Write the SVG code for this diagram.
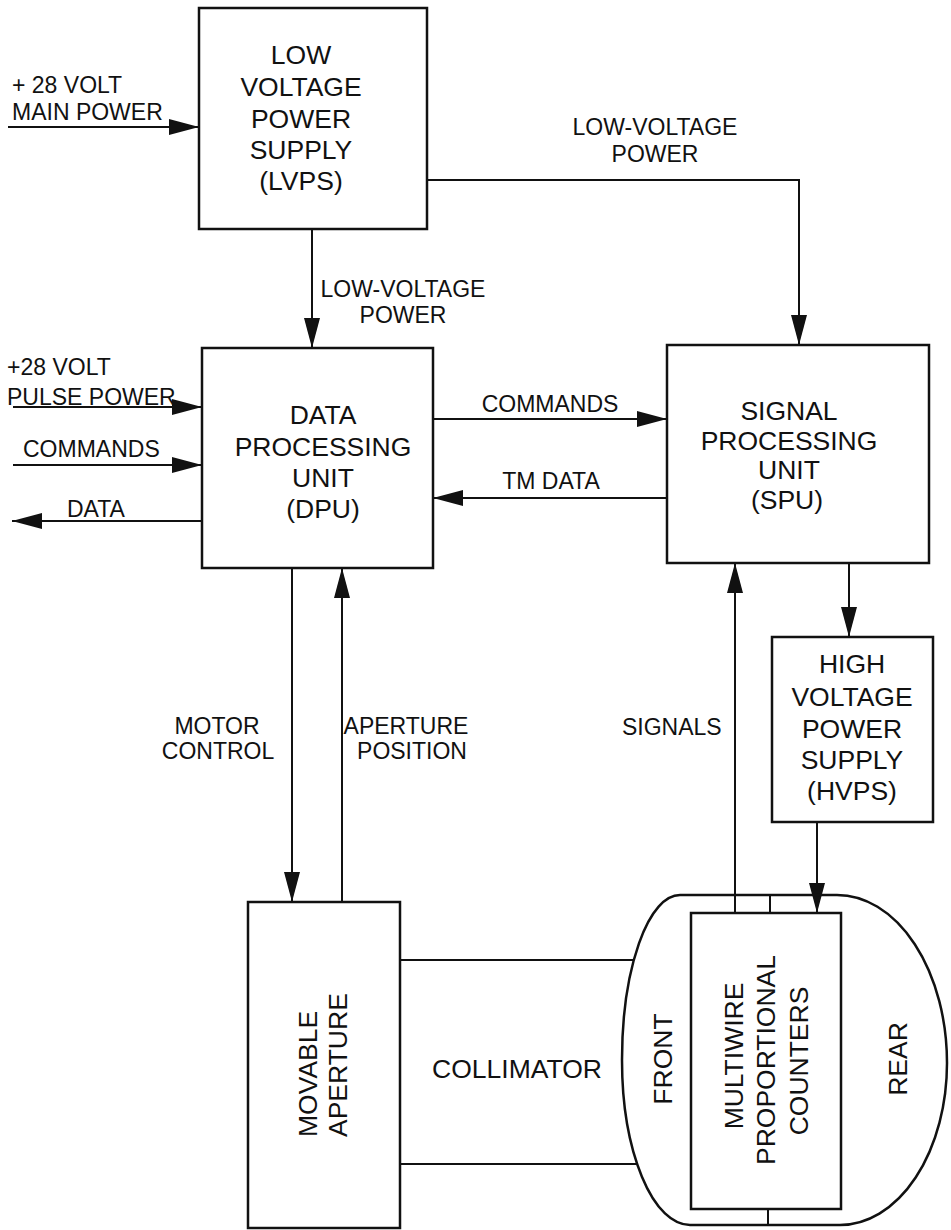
<svg xmlns="http://www.w3.org/2000/svg" width="951" height="1230" viewBox="0 0 951 1230">
<style>
.box{fill:none;stroke:#111;stroke-width:2.5}
.ln{fill:none;stroke:#111;stroke-width:2}
.arr{marker-end:url(#ah)}
text{font-family:"Liberation Sans",Arial,Helvetica,sans-serif;fill:#111}
.bt{font-size:26.5px;text-anchor:middle}
.lb{font-size:23px}
.mid{text-anchor:middle}
</style>
<defs>
<marker id="ah" markerUnits="userSpaceOnUse" markerWidth="30" markerHeight="16" refX="30" refY="8" orient="auto">
<path d="M0,0 L30,8 L0,16 Z" fill="#111"/>
</marker>
</defs>
<rect width="951" height="1230" fill="#fff"/>

<g id="connectors">
<path class="ln arr" d="M8,127 H199"/>
<path class="ln arr" d="M312,229 V348"/>
<path class="ln arr" d="M427,180 H799 V345"/>
<path class="ln arr" d="M13,407 H202"/>
<path class="ln arr" d="M13,465 H202"/>
<path class="ln arr" d="M202,521 H12"/>
<path class="ln arr" d="M433,419 H667"/>
<path class="ln arr" d="M667,498 H433"/>
<path class="ln arr" d="M292,568 V902"/>
<path class="ln arr" d="M342,902 V568"/>
<path class="ln arr" d="M735,913 V563"/>
<path class="ln arr" d="M849,563 V637"/>
<path class="ln arr" d="M817,822 V913"/>
<path class="ln" d="M770,895 V913"/>
<path class="ln" d="M768,1209 V1225"/>
<path class="ln" d="M400,960 H634"/>
<path class="ln" d="M400,1164 H637"/>
<text class="lb" x="12" y="93">+ 28 VOLT</text>
<text class="lb" x="12" y="120">MAIN POWER</text>
<text class="lb mid" x="403" y="297">LOW-VOLTAGE</text>
<text class="lb mid" x="403" y="323">POWER</text>
<text class="lb mid" x="655" y="135">LOW-VOLTAGE</text>
<text class="lb mid" x="655" y="162">POWER</text>
<text class="lb" x="7" y="375">+28 VOLT</text>
<text class="lb" x="7" y="405">PULSE POWER</text>
<text class="lb" x="23" y="457">COMMANDS</text>
<text class="lb" x="67" y="517">DATA</text>
<text class="lb mid" x="550" y="412">COMMANDS</text>
<text class="lb mid" x="551" y="489">TM DATA</text>
<text class="lb mid" x="217" y="734">MOTOR</text>
<text class="lb mid" x="218" y="759">CONTROL</text>
<text class="lb mid" x="406" y="734">APERTURE</text>
<text class="lb mid" x="412" y="759">POSITION</text>
<text class="lb" x="622" y="735">SIGNALS</text>
</g>

<g id="lvps">
<rect class="box" x="199" y="8" width="228" height="221"/>
<text class="bt" x="301" y="64">LOW</text>
<text class="bt" x="301" y="96">VOLTAGE</text>
<text class="bt" x="301" y="128">POWER</text>
<text class="bt" x="301" y="159">SUPPLY</text>
<text class="bt" x="301" y="190">(LVPS)</text>
</g>

<g id="dpu">
<rect class="box" x="202" y="348" width="231" height="220"/>
<text class="bt" x="323" y="424">DATA</text>
<text class="bt" x="323" y="456">PROCESSING</text>
<text class="bt" x="323" y="487">UNIT</text>
<text class="bt" x="323" y="518">(DPU)</text>
</g>

<g id="spu">
<rect class="box" x="667" y="345" width="262" height="218"/>
<text class="bt" x="789" y="420">SIGNAL</text>
<text class="bt" x="789" y="450">PROCESSING</text>
<text class="bt" x="789" y="479">UNIT</text>
<text class="bt" x="787" y="509">(SPU)</text>
</g>

<g id="hvps">
<rect class="box" x="772" y="637" width="161" height="185"/>
<text class="bt" x="852" y="673">HIGH</text>
<text class="bt" x="852" y="706">VOLTAGE</text>
<text class="bt" x="852" y="738">POWER</text>
<text class="bt" x="852" y="769">SUPPLY</text>
<text class="bt" x="852" y="800">(HVPS)</text>
</g>

<g id="aperture">
<rect class="box" x="248" y="902" width="152" height="326"/>
<text font-size="26.5" transform="translate(317,1137) rotate(-90)">MOVABLE</text>
<text font-size="26.5" transform="translate(347,1137) rotate(-90)">APERTURE</text>
</g>

<g id="collimator">
<text class="bt" x="517" y="1078">COLLIMATOR</text>
</g>

<g id="housing">
<path class="box" d="M680,895 L837,895 A110,168 0 0 1 947,1063 A107,162 0 0 1 840,1225 L690,1225 A68,165 0 0 1 622,1060 A58,165 0 0 1 680,895 Z"/>
<text class="bt" transform="translate(672,1059) rotate(-90)">FRONT</text>
<text class="bt" transform="translate(907,1059) rotate(-90)">REAR</text>
</g>

<g id="mpc">
<rect class="box" x="691" y="913" width="150" height="296"/>
<text class="bt" transform="translate(743,1056) rotate(-90)">MULTIWIRE</text>
<text class="bt" transform="translate(775,1060) rotate(-90)">PROPORTIONAL</text>
<text class="bt" transform="translate(808,1061) rotate(-90)">COUNTERS</text>
</g>
</svg>
